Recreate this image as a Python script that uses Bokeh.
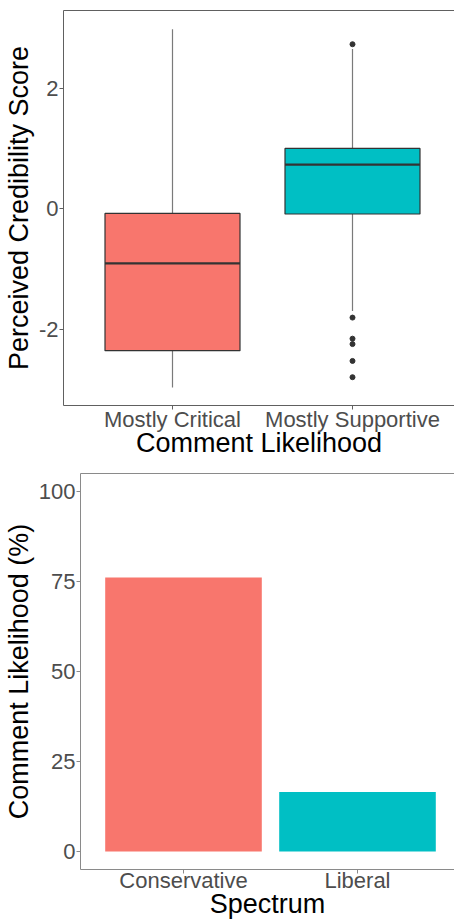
from bokeh.plotting import figure
from bokeh.models import Range1d, FixedTicker, LinearAxis, ColumnDataSource
from bokeh.embed import file_html
from bokeh.resources import INLINE

# Box-plot summary of perceived credibility by comment likelihood
groups = ["Mostly Critical", "Mostly Supportive"]
q1 = [-2.36, -0.09]
median = [-0.91, 0.73]
q3 = [-0.08, 1.00]
whisker_low = [-2.97, -1.70]
whisker_high = [2.98, 2.65]
outlier_group = ["Mostly Supportive"] * 6
outlier_value = [2.73, -1.81, -2.16, -2.25, -2.53, -2.80]
credibility_ticks = [-2, 0, 2]

# Comment likelihood by political spectrum
spectrum = ["Conservative", "Liberal"]
likelihood = [76.1, 16.5]
likelihood_ticks = [0, 25, 50, 75, 100]

fill_colors = ["#F8766D", "#00BFC4"]
FONT = "Liberation Sans"
TICK_COLOR = "#4d4d4d"


def style_axes(p, line_color, label_standoff, title_standoff):
    for ax in (p.xaxis[0], p.yaxis[0]):
        ax.axis_line_color = line_color
        ax.axis_line_width = 1
        ax.major_tick_line_color = line_color
        ax.major_tick_in = 0
        ax.major_tick_out = 4
        ax.minor_tick_line_color = None
        ax.major_label_text_font = FONT
        ax.major_label_text_font_size = "22px"
        ax.major_label_text_color = TICK_COLOR
        ax.axis_label_text_font = FONT
        ax.axis_label_text_font_size = "27px"
        ax.axis_label_text_font_style = "normal"
        ax.axis_label_text_color = "black"
    p.xaxis[0].major_label_standoff = label_standoff
    p.xaxis[0].axis_label_standoff = title_standoff
    p.yaxis[0].major_label_standoff = 1
    p.yaxis[0].axis_label_standoff = 2
    # top border of the panel
    top = LinearAxis(ticker=FixedTicker(ticks=[]), axis_line_color=line_color,
                     major_label_text_font_size="0px", major_tick_line_color=None,
                     minor_tick_line_color=None)
    p.add_layout(top, "above")
    p.grid.visible = False
    p.outline_line_color = None
    p.background_fill_color = "white"
    p.border_fill_color = "white"


# ---------- top: box plot ----------
xpos = [i + 1 for i in range(len(groups))]
half = 0.375
box_src = ColumnDataSource(dict(
    x=xpos, q1=q1, q3=q3, med=median, lo=whisker_low, hi=whisker_high,
    left=[x - half for x in xpos], right=[x + half for x in xpos],
    color=fill_colors,
))
pos_of = {g: i + 1 for i, g in enumerate(groups)}
out_src = ColumnDataSource(dict(x=[pos_of[g] for g in outlier_group], y=outlier_value))

p1 = figure(width=454, height=462, min_border_left=63, min_border_right=0,
            min_border_top=10, min_border_bottom=57,
            x_range=Range1d(1 - 109 / 180, 2 + 102 / 180), y_range=Range1d(-3.27, 3.29),
            output_backend="svg", toolbar_location=None,
            x_axis_label="Comment Likelihood", y_axis_label="Perceived Credibility Score")

p1.segment(x0="x", x1="x", y0="q3", y1="hi", source=box_src, line_color="#7a7a7a", line_width=1.2)
p1.segment(x0="x", x1="x", y0="lo", y1="q1", source=box_src, line_color="#7a7a7a", line_width=1.2)
p1.vbar(x="x", width=2 * half, bottom="q1", top="q3", source=box_src,
        fill_color="color", line_color="#333333", line_width=1.2)
p1.segment(x0="left", x1="right", y0="med", y1="med", source=box_src,
           line_color="#333333", line_width=2.2)
p1.scatter(x="x", y="y", source=out_src, size=5, fill_color="#333333", line_color="#333333")

p1.xaxis.ticker = FixedTicker(ticks=xpos)
p1.xaxis.major_label_overrides = {x: g for x, g in zip(xpos, groups)}
p1.yaxis.ticker = FixedTicker(ticks=credibility_ticks)
p1.yaxis.major_label_overrides = {t: str(t) for t in credibility_ticks}
style_axes(p1, "#606060", -3, -7)

# ---------- bottom: bar chart ----------
bpos = [i + 1 for i in range(len(spectrum))]
bar_src = ColumnDataSource(dict(x=bpos, top=likelihood, color=fill_colors))

p2 = figure(width=454, height=460, min_border_left=80, min_border_right=0,
            min_border_top=11, min_border_bottom=53,
            x_range=Range1d(1 - 103 / 174, 2 + 97 / 174), y_range=Range1d(-5, 105),
            output_backend="svg", toolbar_location=None,
            x_axis_label="Spectrum", y_axis_label="Comment Likelihood (%)")

p2.vbar(x="x", width=0.9, bottom=0, top="top", source=bar_src,
        fill_color="color", line_color=None)

p2.xaxis.ticker = FixedTicker(ticks=bpos)
p2.xaxis.major_label_overrides = {x: s for x, s in zip(bpos, spectrum)}
p2.yaxis.ticker = FixedTicker(ticks=likelihood_ticks)
style_axes(p2, "#8a8a8a", -6, -7)

open("out.html", "w").write(file_html([p1, p2], INLINE))
